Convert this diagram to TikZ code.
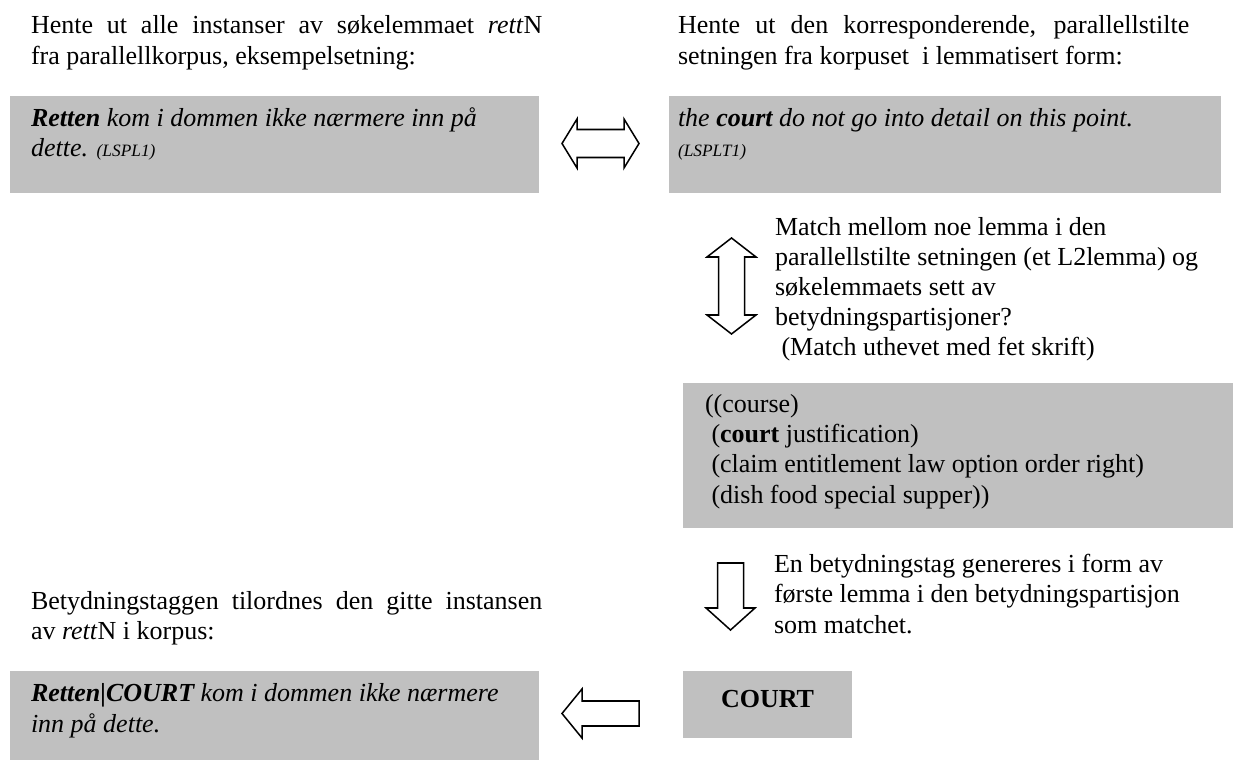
\documentclass[tikz,border=0pt]{standalone}
\usepackage{fontspec}
\setmainfont{Liberation Serif}
\usepackage{tikz}
\usetikzlibrary{positioning}
\definecolor{boxgray}{RGB}{192,192,192}
\tikzset{x = 0.46154pt, y = -0.46154pt,
  txt/.style = {inner sep = 0, outer sep = 0, anchor = base west, align = left,
    font = \fontsize{12}{13.85}\selectfont},
  ital/.style = {txt, font = \fontsize{12}{13.85}\selectfont\itshape},
  para/.style = {txt, text width = 236pt, align = justify},
  graybox/.style = {fill = boxgray, inner sep = 0, outer sep = 0, anchor = north west},
  blockarrow/.style = {draw = black, fill = white, line width = 0.7pt}}
\newcommand{\srcref}[1]{{\fontsize{8}{9}\selectfont #1}}

\begin{document}
\begin{tikzpicture}
  \path [use as bounding box, fill = white] (0,0) rectangle (1233,760);
  % boxes
  \node [graybox, minimum width = 244.15pt, minimum height = 44.77pt] (nobox) at (10,96) {};
  \node [graybox, minimum width = 254.77pt, minimum height = 44.77pt] (enbox) at (669,96) {};
  \node [graybox, minimum width = 253.85pt, minimum height = 66.92pt] (partbox) at (683,383) {};
  \node [graybox, minimum width = 78pt, minimum height = 30.92pt] (tagbox) at (683,671) {};
  \node [graybox, minimum width = 244.15pt, minimum height = 41.08pt] (resbox) at (10,671) {};
  % texts (multi-line nodes sit on their last line)
  \node [para] (nohead) at (31,34) {Hente ut alle instanser av søkelemmaet \textit{rett}N\linebreak fra parallellkorpus, eksempelsetning:};
  \node [para] (enhead) at (678,34) {Hente ut den korresponderende, parallellstilte\linebreak setningen fra korpuset\ \ i lemmatisert form:};
  \node [ital] (notxt) at (31,157) {\textbf{Retten} kom i dommen ikke nærmere inn på\\ dette. \srcref{(LSPL1)}};
  \node [ital] (entxt) at (678,157) {the \textbf{court} do not go into detail on this point.\\ \srcref{(LSPLT1)}};
  \node [txt] (matchtxt) at (775,356) {Match mellom noe lemma i den\\ parallellstilte setningen (et L2lemma) og\\ søkelemmaets sett av\\ betydningspartisjoner?\\ \hspace*{0.25em}(Match uthevet med fet skrift)};
  \node [txt] (parttxt) at (705,503) {((course)\\ \hspace*{0.25em}(\textbf{court} justification)\\ \hspace*{0.25em}(claim entitlement law option order right)\\ \hspace*{0.25em}(dish food special supper))};
  \node [txt] (gentxt) at (774,633) {En betydningstag genereres i form av\\ første lemma i den betydningspartisjon\\ som matchet.};
  \node [para] (taghead) at (31,609) {Betydningstaggen tilordnes den gitte instansen\linebreak av \textit{rett}N i korpus:};
  \node [txt, anchor = base] (tagtxt) at (767.5,707) {\textbf{COURT}};
  \node [ital] (restxt) at (31,732) {\textbf{Retten|COURT} kom i dommen ikke nærmere\\ inn på dette.};
  % arrows
  \draw [blockarrow] (562,143.5) -- (577,119) -- (577,129.5) -- (624,129.5) -- (624,119) -- (639,143.5)
    -- (624,168) -- (624,157.5) -- (577,157.5) -- (577,168) -- cycle;
  \draw [blockarrow] (731.5,238) -- (756,257) -- (744.5,257) -- (744.5,315) -- (756,315) -- (731.5,334)
    -- (707,315) -- (718.5,315) -- (718.5,257) -- (707,257) -- cycle;
  \draw [blockarrow] (717.5,563) -- (743.5,563) -- (743.5,608) -- (755,608) -- (730.5,630)
    -- (706,608) -- (717.5,608) -- cycle;
  \draw [blockarrow] (562,713.5) -- (582,689) -- (582,701) -- (639,701) -- (639,726) -- (582,726)
    -- (582,738) -- cycle;
\end{tikzpicture}
\end{document}
